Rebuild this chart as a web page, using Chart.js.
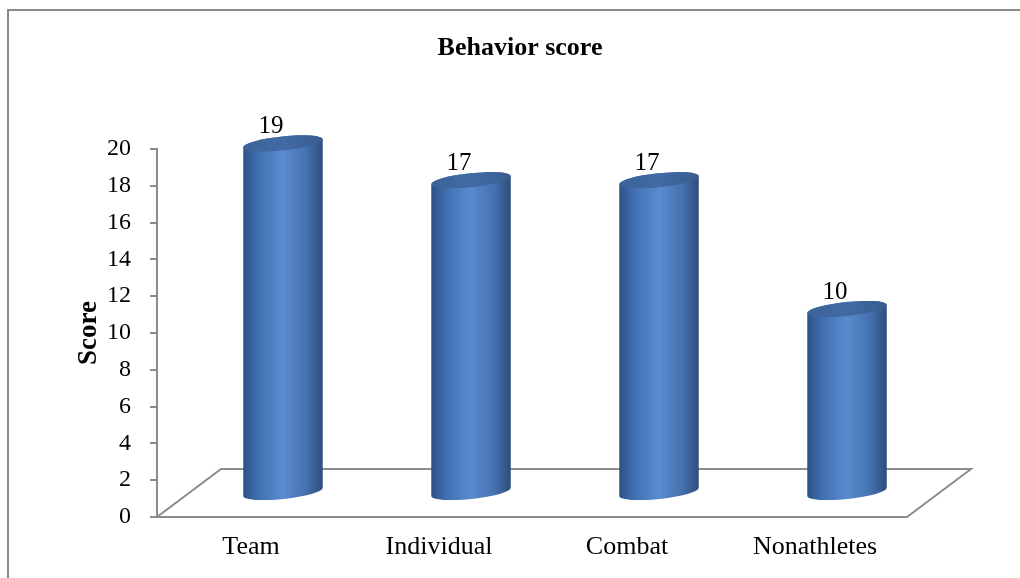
<!DOCTYPE html>
<html lang="en">
<head>
    <meta charset="UTF-8">
    <title>Behavior score</title>
    <script src="https://cdn.jsdelivr.net/npm/chart.js"></script>
    <style>
        html, body {
            margin: 0;
            padding: 0;
            background: #ffffff;
        }
        .chart-box {
            position: relative;
            width: 1020px;
            height: 578px;
        }
    </style>
</head>
<body>
<div class="chart-box">
    <canvas id="scoreChart" width="1020" height="578"></canvas>
</div>

<script>
    // data
    const categories = ['Team', 'Individual', 'Combat', 'Nonathletes'];
    const scores = [19, 17, 17, 10];
    const yTicks = [0, 2, 4, 6, 8, 10, 12, 14, 16, 18, 20];

    const serif = "'Liberation Serif', 'Times New Roman', serif";
    const lineGray = '#8c8c8c';
    const depthX = 64, depthY = -48;   // floor depth (oblique 3D look)

    // draws floor, frame, cylinders and value labels
    const cylinderPlugin = {
        id: 'cylinders',
        beforeDatasetsDraw(chart) {
            const ctx = chart.ctx;
            const a = chart.chartArea;
            ctx.save();
            // outer frame
            ctx.strokeStyle = '#8a8a8a';
            ctx.lineWidth = 2;
            ctx.beginPath();
            ctx.moveTo(8, 578);
            ctx.lineTo(8, 10);
            ctx.lineTo(1020, 10);
            ctx.stroke();
            // floor
            ctx.strokeStyle = lineGray;
            ctx.lineWidth = 2;
            ctx.beginPath();
            ctx.moveTo(a.left, a.bottom);
            ctx.lineTo(a.right - 2, a.bottom);
            ctx.lineTo(a.right - 2 + depthX, a.bottom + depthY);
            ctx.lineTo(a.left + depthX, a.bottom + depthY);
            ctx.closePath();
            ctx.stroke();
            ctx.restore();
        },
        afterDatasetsDraw(chart) {
            const ctx = chart.ctx;
            const meta = chart.getDatasetMeta(0);
            const rot = -6 * Math.PI / 180;
            meta.data.forEach((bar, i) => {
                const p = bar.getProps(['x', 'y', 'base', 'width'], true);
                const cx = p.x + depthX / 2;
                const topY = p.y + depthY / 2;
                const botY = p.base + depthY / 2;
                const rx = p.width / 2;
                const ry = 7;
                const ex = rx * Math.cos(rot), ey = rx * Math.sin(rot);

                ctx.save();
                const g = ctx.createLinearGradient(cx - rx, 0, cx + rx, 0);
                g.addColorStop(0, '#2d5186');
                g.addColorStop(0.2, '#4271b3');
                g.addColorStop(0.5, '#5a8bd0');
                g.addColorStop(0.8, '#4470ad');
                g.addColorStop(1, '#2c4c7b');
                ctx.fillStyle = g;
                ctx.beginPath();
                ctx.ellipse(cx, botY, rx, ry, rot, 0, Math.PI);
                ctx.lineTo(cx - ex, topY - ey);
                ctx.ellipse(cx, topY, rx, ry, rot, Math.PI, 2 * Math.PI);
                ctx.closePath();
                ctx.fill();

                // top cap
                const tg = ctx.createLinearGradient(cx - rx, topY, cx + rx, topY);
                tg.addColorStop(0, '#3b6399');
                tg.addColorStop(0.5, '#416ba3');
                tg.addColorStop(1, '#385d90');
                ctx.fillStyle = tg;
                ctx.beginPath();
                ctx.ellipse(cx, topY, rx, ry, rot, 0, 2 * Math.PI);
                ctx.fill();

                // value label
                ctx.fillStyle = '#000000';
                ctx.font = '25px ' + serif;
                ctx.textAlign = 'center';
                ctx.textBaseline = 'middle';
                ctx.fillText(String(scores[i]), p.x + 20, p.y - 41);
                ctx.restore();
            });
        }
    };

    const ctx = document.getElementById('scoreChart').getContext('2d');
    const scoreChart = new Chart(ctx, {
        type: 'bar',
        data: {
            labels: categories,
            datasets: [{
                label: 'Score',
                data: scores,
                backgroundColor: 'rgba(0,0,0,0)',
                borderWidth: 0,
                categoryPercentage: 1,
                barPercentage: 0.425
            }]
        },
        options: {
            responsive: false,
            animation: false,
            layout: {
                padding: { top: 33, left: 20, right: 0, bottom: 0 }
            },
            plugins: {
                legend: { display: false },
                tooltip: { enabled: false },
                title: {
                    display: true,
                    text: 'Behavior score',
                    color: '#000000',
                    font: { family: serif, size: 26, weight: 'bold', lineHeight: 1.2 },
                    padding: { top: 0, bottom: 84.8 }
                }
            },
            scales: {
                x: {
                    grid: { display: false, drawTicks: false },
                    border: { display: false },
                    ticks: {
                        color: '#000000',
                        padding: 15,
                        font: { family: serif, size: 26 }
                    },
                    afterFit: s => { s.height = 61; }
                },
                y: {
                    min: 0,
                    max: 20,
                    afterBuildTicks: s => { s.ticks = yTicks.map(v => ({ value: v })); },
                    grid: {
                        drawOnChartArea: false,
                        drawTicks: true,
                        tickLength: 7,
                        color: lineGray,
                        lineWidth: 2
                    },
                    border: { display: true, color: lineGray, width: 2 },
                    ticks: {
                        color: '#000000',
                        padding: 19,
                        font: { family: serif, size: 24 }
                    },
                    title: {
                        display: true,
                        text: 'Score',
                        color: '#000000',
                        padding: { top: 53, bottom: 0 },
                        font: { family: serif, size: 27, weight: 'bold' }
                    },
                    afterFit: s => { s.width = 137; }
                },
                // empty right-hand space (room for the 3D floor)
                yRight: {
                    position: 'right',
                    grid: { display: false },
                    border: { display: false },
                    ticks: { display: false },
                    afterFit: s => { s.width = 111; }
                }
            }
        },
        plugins: [cylinderPlugin]
    });
</script>
</body>
</html>
